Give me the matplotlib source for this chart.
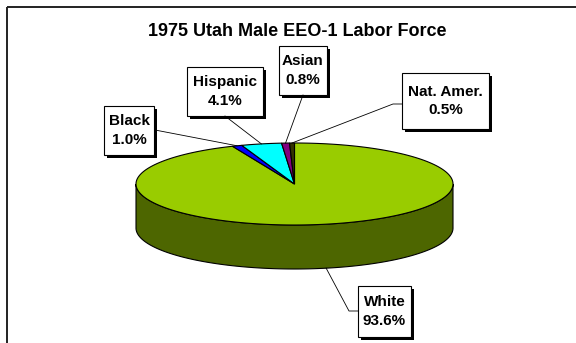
import numpy as np
import matplotlib
matplotlib.use('Agg')
import matplotlib.pyplot as plt
from matplotlib.patches import Polygon, Rectangle

plt.rcParams['font.family'] = ['Liberation Sans', 'DejaVu Sans']

# data
groups = ['White', 'Black', 'Hispanic', 'Asian', 'Nat. Amer.']
shares = [93.6, 1.0, 4.1, 0.8, 0.5]
top_colors = ['#99CC00', '#0000FF', '#00FFFF', '#800080', '#333300']
side_colors = ['#4D6600', '#000080', '#008080', '#400040', '#1A1A00']
title = '1975 Utah Male EEO-1 Labor Force'

# label boxes (x0, y0, x1, y1) in pixels and leader-line start points
boxes = {
    'White': (358, 286, 411, 337),
    'Black': (104, 106, 154, 155),
    'Hispanic': (187, 67, 263, 116),
    'Asian': (279, 46, 327, 95),
    'Nat. Amer.': (402, 73, 489, 129),
}
leader_start = {
    'White': [(358, 311), (349, 311)],
    'Black': [(155, 130)],
    'Hispanic': [(225, 116)],
    'Asian': [(303, 95)],
    'Nat. Amer.': [(402, 104), (393, 104)],
}

# pie geometry (pixels)
cx, cy = 294.5, 184
a, b = 158.5, 41
depth = 44


def ell(phi):
    # phi: degrees clockwise from 12 o'clock
    r = np.radians(phi)
    return cx + a * np.sin(r), cy - b * np.cos(r)


fig = plt.figure(figsize=(5.76, 3.43), dpi=100)
ax = fig.add_axes([0, 0, 1, 1])
ax.set_xlim(0, 576)
ax.set_ylim(343, 0)
ax.axis('off')

# frame
ax.add_patch(Rectangle((7, 6.5), 600, 400, fill=False, edgecolor='#222222', lw=1.4))

fracs = np.array(shares) / sum(shares)
bounds = np.concatenate([[0], np.cumsum(fracs) * 360])

# side walls (front half only)
for i in range(len(groups)):
    s, e = max(bounds[i], 90), min(bounds[i + 1], 270)
    if e <= s:
        continue
    phi = np.linspace(s, e, 200)
    x, y = ell(phi)
    pts = np.column_stack([np.concatenate([x, x[::-1]]),
                           np.concatenate([y, y[::-1] + depth])])
    ax.add_patch(Polygon(pts, closed=True, facecolor=side_colors[i],
                         edgecolor='black', lw=0.8))

# top faces
for i in range(len(groups)):
    phi = np.linspace(bounds[i], bounds[i + 1], max(int((bounds[i + 1] - bounds[i]) * 2), 4))
    x, y = ell(phi)
    pts = np.column_stack([np.concatenate([[cx], x]), np.concatenate([[cy], y])])
    ax.add_patch(Polygon(pts, closed=True, facecolor=top_colors[i],
                         edgecolor='black', lw=0.8, joinstyle='miter'))

# labels with shadowed boxes and leader lines
for i, g in enumerate(groups):
    mid = (bounds[i] + bounds[i + 1]) / 2
    ex, ey = ell(mid)
    if np.cos(np.radians(mid)) < 0:
        ey += depth
    pts = leader_start[g] + [(ex, ey)]
    ax.plot([p[0] for p in pts], [p[1] for p in pts], color='black', lw=0.6)
    x0, y0, x1, y1 = boxes[g]
    ax.add_patch(Rectangle((x0 + 3, y0 + 3), x1 - x0, y1 - y0,
                           facecolor='black', edgecolor='black', lw=0))
    ax.add_patch(Rectangle((x0, y0), x1 - x0, y1 - y0,
                           facecolor='white', edgecolor='black', lw=0.8))
    ax.text((x0 + x1) / 2, (y0 + y1) / 2, f'{g}\n{shares[i]:.1f}%',
            ha='center', va='center', fontsize=11, fontweight='bold',
            linespacing=1.4)

ax.text(297, 32, title, ha='center', va='center', fontsize=13, fontweight='bold')

fig.savefig('out.png', dpi=100)
